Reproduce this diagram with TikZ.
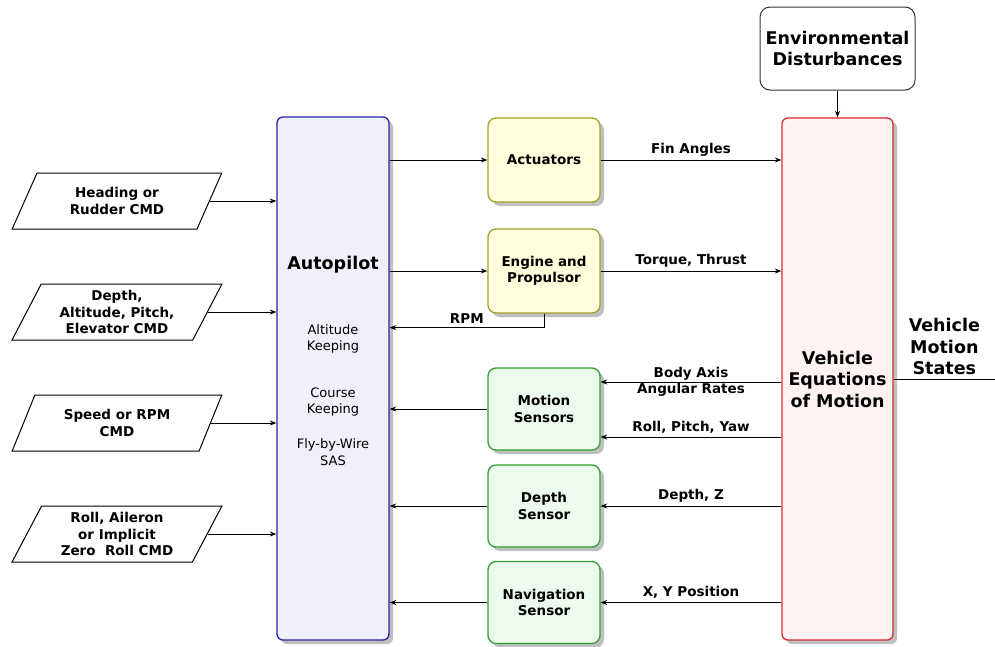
\documentclass[tikz,border=0pt]{standalone}
\usepackage{fontspec}
\setmainfont{DejaVu Sans}
\usetikzlibrary{shapes.geometric,shadows,arrows.meta}
\definecolor{apfill}{RGB}{240,240,252}
\definecolor{apline}{RGB}{40,40,160}
\definecolor{yelfill}{RGB}{255,255,222}
\definecolor{yelline}{RGB}{160,160,50}
\definecolor{grnfill}{RGB}{236,252,236}
\definecolor{grnline}{RGB}{50,160,50}
\definecolor{vemfill}{RGB}{255,242,242}
\definecolor{vemline}{RGB}{215,45,45}
\begin{document}
\begin{tikzpicture}[x=1pt, y=-1pt, line width=1pt,
    >={Stealth[length=6.5pt,width=5pt]},
    lbl/.style={font=\bfseries\fontsize{13.5}{16.5}\selectfont, align=center},
    big/.style={font=\bfseries\fontsize{17.5}{21.5}\selectfont, align=center},
    sub/.style={font=\fontsize{13}{16.5}\selectfont, align=center},
    shade/.style={drop shadow={shadow xshift=4pt, shadow yshift=-4pt, fill=black!25, opacity=1}},
    cmd/.style={draw, fill=white, trapezium, trapezium left angle=65, trapezium right angle=115,
        trapezium stretches=true, minimum width=210pt, minimum height=56pt, lbl},
    yelbox/.style={draw=yelline, line width=1.3pt, fill=yelfill, rounded corners=8pt, minimum width=112pt, minimum height=84pt, shade, lbl},
    grnbox/.style={draw=grnline, line width=1.3pt, fill=grnfill, rounded corners=8pt, minimum width=112pt, minimum height=82pt, shade, lbl}]
    \useasboundingbox (0,0) rectangle (995,646);

    \draw (117,201) node[cmd] (hdg) {Heading or\\Rudder CMD};
    \draw (117,312) node[cmd] (dep) {Depth,\\Altitude, Pitch,\\Elevator CMD};
    \draw (117,423) node[cmd] (spd) {Speed or RPM\\CMD};
    \draw (117,534) node[cmd] (rol) {Roll, Aileron\\or Implicit\\Zero\ \ Roll CMD};

    \draw (333,378.5) node[draw=apline, line width=1.3pt, fill=apfill, rounded corners=6pt, minimum width=112pt, minimum height=523pt, shade] (ap) {};
    \draw (333,265) node[big] (aptitle) {Autopilot};
    \draw (333,339) node[sub] (alt) {Altitude\\Keeping};
    \draw (333,402) node[sub] (crs) {Course\\Keeping};
    \draw (333,452) node[sub] (fbw) {Fly-by-Wire\\SAS};

    \draw (544,160) node[yelbox] (act) {Actuators};
    \draw (544,271) node[yelbox] (eng) {Engine and\\Propulsor};
    \draw (544,409) node[grnbox] (mot) {Motion\\Sensors};
    \draw (544,506) node[grnbox] (dsen) {Depth\\Sensor};
    \draw (544,602.5) node[grnbox] (nav) {Navigation\\Sensor};

    \draw (837.5,379) node[draw=vemline, line width=1.3pt, fill=vemfill, rounded corners=6pt, minimum width=111pt, minimum height=522pt, shade, big] (vem) {Vehicle\\Equations\\of Motion};
    \draw (837.5,48.5) node[draw=black!80, rounded corners=10pt, minimum width=155pt, minimum height=83pt, big] (env) {Environmental\\Disturbances};

    \draw[->] (hdg.east) -- (hdg.east -| ap.west);
    \draw[->] (dep.east) -- (dep.east -| ap.west);
    \draw[->] (spd.east) -- (spd.east -| ap.west);
    \draw[->] (rol.east) -- (rol.east -| ap.west);

    \draw[->] (act.west -| ap.east) -- (act.west);
    \draw[->] (eng.west -| ap.east) -- (eng.west);
    \draw[->] (eng.south) -- ++(0,14) coordinate (rpm) -- (rpm -| ap.east) node[midway, above, lbl] {RPM};

    \draw[->] (act.east) -- node[above, lbl] {Fin Angles} (act.east -| vem.west);
    \draw[->] (eng.east) -- node[above, lbl] {Torque, Thrust} (eng.east -| vem.west);
    \draw[<-] ([yshift=27pt]mot.east) -- node[lbl] {Body Axis\\Angular Rates} ([yshift=27pt]mot.east -| vem.west);
    \draw[<-] ([yshift=-28pt]mot.east) -- node[above, lbl] {Roll, Pitch, Yaw} ([yshift=-28pt]mot.east -| vem.west);
    \draw[<-] (dsen.east) -- node[above, lbl] {Depth, Z} (dsen.east -| vem.west);
    \draw[<-] (nav.east) -- node[above, lbl] {X, Y Position} (nav.east -| vem.west);

    \draw[->] (mot.west) -- (mot.west -| ap.east);
    \draw[->] (dsen.west) -- (dsen.west -| ap.east);
    \draw[->] (nav.west) -- (nav.west -| ap.east);

    \draw[->] (env.south) -- (vem.north);
    \coordinate (out) at (995,379);
    \draw (vem.east) -- (out) node[midway, above, big] {Vehicle\\Motion\\States};
\end{tikzpicture}
\end{document}
